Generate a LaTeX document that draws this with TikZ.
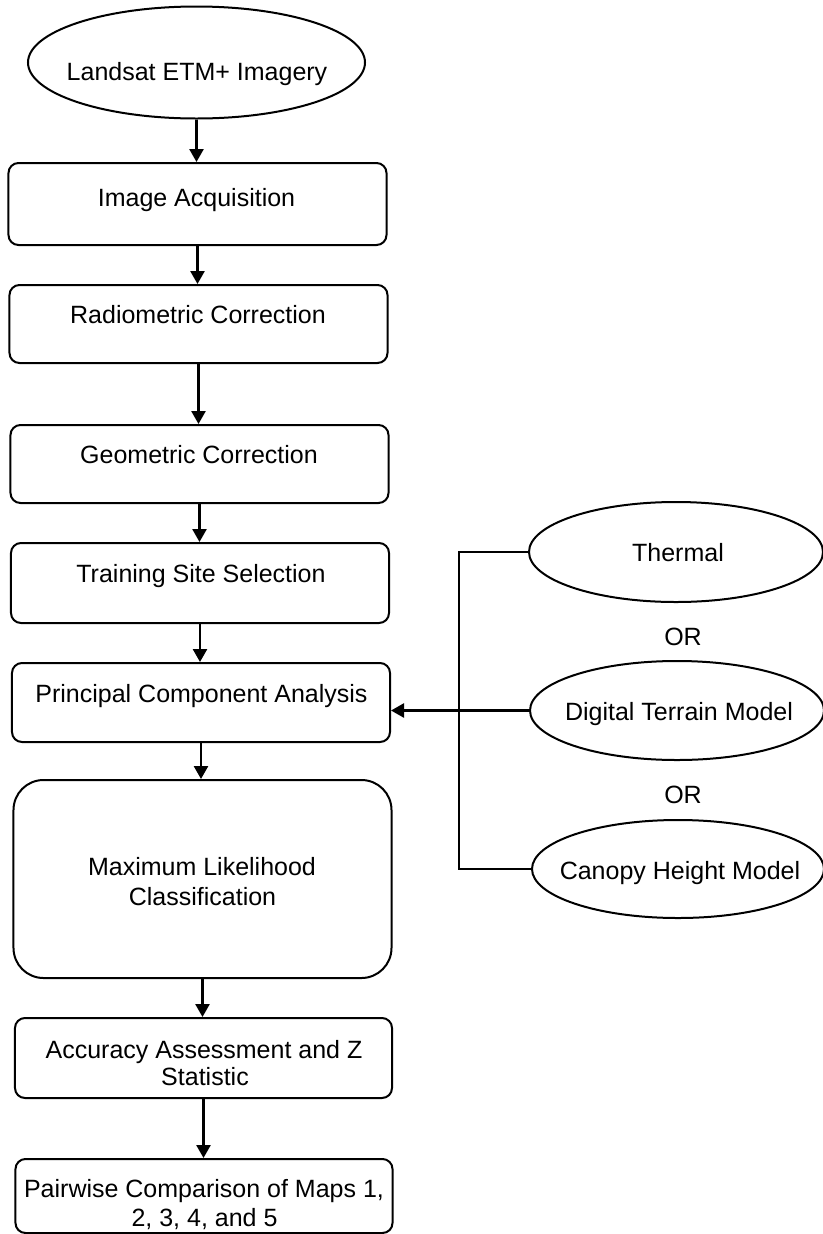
\documentclass[tikz,border=0pt]{standalone}
\usepackage{fontspec}
\setmainfont{Liberation Sans}
\usetikzlibrary{shapes.geometric,arrows.meta}
\begin{document}
\begin{tikzpicture}[x=1bp,y=-1bp,
  box/.style={draw, line width=2bp, rounded corners=10bp, minimum width=378bp, inner sep=0pt},
  oval/.style={draw, ellipse, line width=2bp, inner sep=0pt},
  txt/.style={anchor=base, inner sep=0pt, font=\fontsize{25bp}{30bp}\selectfont},
  arr/.style={line width=2.5bp, -{Triangle[width=14bp,length=13bp]}},
  bus/.style={line width=2.5bp}]
\useasboundingbox (0,0) rectangle (823,1234);

% main column
\node[oval, minimum width=337bp, minimum height=112bp] (land) at (196.5,62.5) {};
\node[txt] (tland) at (197,80) {Landsat ETM+ Imagery};

\node[box, minimum height=82bp] (acq) at (197.5,204) {};
\node[txt] (tacq) at (196.5,206) {Image Acquisition};

\node[box, minimum height=78bp] (rad) at (198.5,324) {};
\node[txt] (trad) at (198,323) {Radiometric Correction};

\node[box, minimum height=78bp] (geo) at (199.5,464) {};
\node[txt] (tgeo) at (199,463) {Geometric Correction};

\node[box, minimum height=80bp] (train) at (200,583) {};
\node[txt] (ttrain) at (201,582) {Training Site Selection};

\node[box, minimum height=79bp] (pca) at (201,702.5) {};
\node[txt] (tpca) at (201.5,702) {Principal Component Analysis};

\node[box, minimum height=198bp, rounded corners=30bp] (mlc) at (202.5,879) {};
\node[txt] (tmlc1) at (202,875) {Maximum Likelihood};
\node[txt] (tmlc2) at (202.5,905) {Classification};

\node[box, minimum height=80bp, minimum width=377bp] (acc) at (203.5,1058) {};
\node[txt] (tacc1) at (204,1058) {Accuracy Assessment and Z};
\node[txt] (tacc2) at (205,1085) {Statistic};

\node[box, minimum height=74bp, minimum width=377bp] (pair) at (204,1196) {};
\node[txt] (tpair1) at (204,1197) {Pairwise Comparison of Maps 1,};
\node[txt] (tpair2) at (204.5,1226) {2, 3, 4, and 5};

% right column
\node[oval, minimum width=294bp, minimum height=100bp] (therm) at (676,552) {};
\node[txt] (ttherm) at (678,561) {Thermal};
\node[txt] (or1) at (683,645) {OR};
\node[oval, minimum width=294bp, minimum height=99bp] (dtm) at (677,710.5) {};
\node[txt] (tdtm) at (679,720) {Digital Terrain Model};
\node[txt] (or2) at (683,803) {OR};
\node[oval, minimum width=292bp, minimum height=98bp] (chm) at (678,869) {};
\node[txt] (tchm) at (680,879) {Canopy Height Model};

% connectors
\draw[arr] (land.south) -- (land.south |- acq.north);
\draw[arr] (acq.south) -- (acq.south |- rad.north);
\draw[arr] (rad.south) -- (rad.south |- geo.north);
\draw[arr] (geo.south) -- (geo.south |- train.north);
\draw[arr] (train.south) -- (train.south |- pca.north);
\draw[arr] (pca.south) -- (pca.south |- mlc.north);
\draw[arr] (mlc.south) -- (mlc.south |- acc.north);
\draw[arr] (acc.south) -- (acc.south |- pair.north);

\coordinate (busx) at (459,0);
\draw[bus] (therm.west) -- (therm.west -| busx) -- (chm.west -| busx) -- (chm.west);
\draw[arr] (dtm.west) -- (dtm.west -| pca.east);
\end{tikzpicture}
\end{document}
